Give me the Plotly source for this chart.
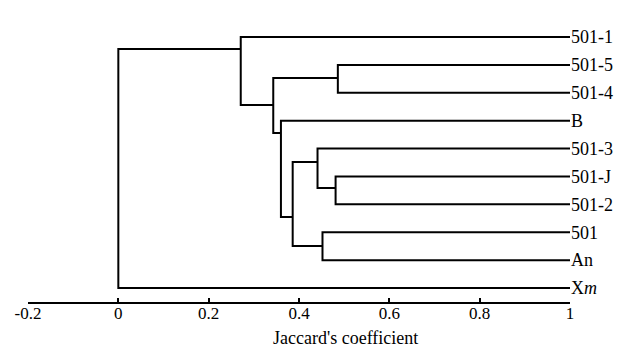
import plotly.graph_objects as go

# ---- data ----
leaves = ["501-1", "501-5", "501-4", "B", "501-3", "501-J", "501-2", "501", "An", "X<i>m</i>"]
leaf_rows = list(range(len(leaves)))
leaf_similarity = 1.0

# merges: (child_a, child_b, similarity, junction_row)
# children: leaf index as ("L", i) or merge index as ("M", j)
merge_a = [("L", 1), ("L", 5), ("L", 4), ("L", 7), ("M", 2), ("L", 3), ("M", 0), ("L", 0), ("M", 7)]
merge_b = [("L", 2), ("L", 6), ("M", 1), ("L", 8), ("M", 3), ("M", 4), ("M", 5), ("M", 6), ("L", 9)]
merge_sim = [0.486, 0.481, 0.441, 0.452, 0.386, 0.360, 0.343, 0.271, 0.0]
merge_row = [1.47, 5.41, 4.48, 7.49, 6.45, 3.44, 2.44, 0.43, 4.7]

tick_vals = [-0.2, 0, 0.2, 0.4, 0.6, 0.8, 1]
tick_text = ["-0.2", "0", "0.2", "0.4", "0.6", "0.8", "1"]

title_text = "UPGMA"
x_title = "Jaccard's coefficient"

# ---- build segments ----
def node_pos(ref):
    kind, i = ref
    if kind == "L":
        return leaf_similarity, leaf_rows[i]
    return merge_sim[i], merge_row[i]

xs, ys = [], []
for a, b, s in zip(merge_a, merge_b, merge_sim):
    xa, ya = node_pos(a)
    xb, yb = node_pos(b)
    xs += [xa, s, s, xb, None]
    ys += [ya, ya, yb, yb, None]

fig = go.Figure()
fig.add_trace(go.Scatter(x=xs, y=ys, mode="lines",
                         line=dict(color="black", width=2),
                         hoverinfo="skip", showlegend=False))

serif = "Liberation Serif, Times New Roman, serif"

fig.update_layout(
    width=629, height=347,
    margin=dict(l=20, r=67, t=12, b=53, autoexpand=False),
    paper_bgcolor="white", plot_bgcolor="white",
    font=dict(family=serif, size=16, color="black"),
    showlegend=False,
    xaxis=dict(range=[-0.2, 1], tickvals=tick_vals, ticktext=tick_text,
               automargin=False,
               showgrid=False, zeroline=False, showline=True,
               linecolor="black", linewidth=1.5,
               ticks="inside", ticklen=4, tickwidth=1.5, tickcolor="black",
               ticklabelstandoff=-5,
               tickfont=dict(family=serif, size=17)),
    yaxis=dict(range=[9.5, -0.61], tickvals=leaf_rows, ticktext=leaves,
               automargin=False,
               side="right", showgrid=False, zeroline=False, showline=False,
               ticks="", tickfont=dict(family=serif, size=18)),
    annotations=[
        dict(text=title_text, x=0.42, y=-0.64, xref="x", yref="y",
             showarrow=False, xanchor="center", yanchor="middle",
             font=dict(family=serif, size=17)),
        dict(text=x_title, x=0.503, y=-0.128, xref="x", yref="paper",
             showarrow=False, xanchor="center", yanchor="middle",
             font=dict(family=serif, size=18)),
    ],
)

fig.write_html("out.html")
